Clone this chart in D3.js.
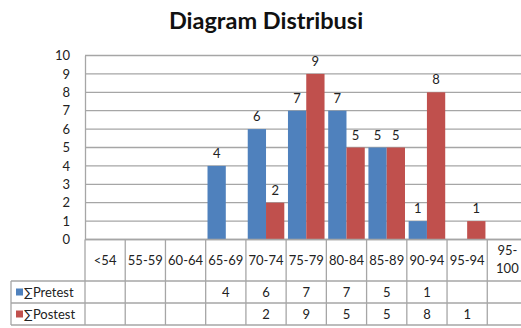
<!DOCTYPE html>
<html>
<head>
<meta charset="utf-8">
<script src="https://cdn.jsdelivr.net/npm/d3@7"></script>
<style>
  html, body { margin: 0; padding: 0; background: #fff; }
  svg { display: block; font-family: Lato, "Open Sans", sans-serif; }
</style>
</head>
<body>
<svg id="chart" width="521" height="328"></svg>
<script>
// Score ranges and counts per range
const categories = ["<54", "55-59", "60-64", "65-69", "70-74", "75-79", "80-84", "85-89", "90-94", "95-94", "95-100"];
const seriesNames = ["\u2211Pretest", "\u2211Postest"];
const pretest = [null, null, null, 4, 6, 7, 7, 5, 1, null, null];
const postest = [null, null, null, null, 2, 9, 5, 5, 8, 1, null];
const yTicks = [0, 1, 2, 3, 4, 5, 6, 7, 8, 9, 10];
const colors = ["#4F81BD", "#C0504D"];
const title = "Diagram Distribusi";

const svg = d3.select("#chart");
const series = [pretest, postest];
const fs = 13;

const plot = { left: 85, right: 527.5, top: 55.5, bottom: 239.5 };
const table = { top: 239.5, headerBottom: 281, row1Bottom: 303, row2Bottom: 325, legendLeft: 11 };

const x = d3.scaleBand().domain(categories).range([plot.left, plot.right]).padding(0);
const xInner = d3.scaleBand().domain([0, 1]).range([0, x.bandwidth()]).paddingInner(0).paddingOuter(0.1);
const y = d3.scaleLinear().domain([0, 10]).range([plot.bottom, plot.top]);

// Title
svg.append("text")
  .attr("x", 266).attr("y", 29)
  .attr("text-anchor", "middle")
  .attr("font-size", 23.5).attr("font-weight", "bold")
  .attr("fill", "#111")
  .text(title);

// Gridlines
svg.append("g").selectAll("line").data(yTicks).join("line")
  .attr("x1", plot.left).attr("x2", 521)
  .attr("y1", d => y(d)).attr("y2", d => y(d))
  .attr("stroke", "#a6a6a6").attr("stroke-width", 1.3);

// Y axis
const yAxis = svg.append("g")
  .attr("transform", `translate(${plot.left},0)`)
  .call(d3.axisLeft(y).tickValues(yTicks).tickSize(0).tickPadding(15));
yAxis.select(".domain").attr("stroke", "#a6a6a6").attr("stroke-width", 1.3);
yAxis.selectAll("text").attr("font-size", fs).attr("fill", "#222").attr("font-family", "Lato, sans-serif");

// Bars
const barGroups = svg.append("g").selectAll("g").data(series).join("g")
  .attr("fill", (d, i) => colors[i]);
barGroups.each(function (vals, si) {
  const data = categories.map((c, i) => ({ c, v: vals[i] })).filter(d => d.v != null);
  d3.select(this).selectAll("rect").data(data).join("rect")
    .attr("x", d => x(d.c) + xInner(si))
    .attr("width", xInner.bandwidth())
    .attr("y", d => y(d.v))
    .attr("height", d => y(0) - y(d.v));
  d3.select(this).selectAll("text").data(data).join("text")
    .attr("x", d => x(d.c) + xInner(si) + xInner.bandwidth() / 2)
    .attr("y", d => y(d.v) - 8)
    .attr("text-anchor", "middle")
    .attr("font-size", fs).attr("fill", "#222")
    .text(d => d.v);
});

// Data table below the plot
const tg = svg.append("g").attr("stroke", "#a6a6a6").attr("stroke-width", 1.3);
// horizontal rules
tg.append("line").attr("x1", plot.left).attr("x2", 521).attr("y1", table.top).attr("y2", table.top);
[table.headerBottom, table.row1Bottom, table.row2Bottom].forEach(yy => {
  tg.append("line").attr("x1", table.legendLeft).attr("x2", 521).attr("y1", yy).attr("y2", yy);
});
// vertical rules
tg.append("line").attr("x1", table.legendLeft).attr("x2", table.legendLeft)
  .attr("y1", table.headerBottom).attr("y2", table.row2Bottom);
categories.forEach(c => {
  tg.append("line").attr("x1", x(c)).attr("x2", x(c)).attr("y1", table.top).attr("y2", table.row2Bottom);
});
tg.append("line").attr("x1", plot.right).attr("x2", plot.right).attr("y1", table.top).attr("y2", table.row2Bottom);

// category labels
const catLabels = svg.append("g").selectAll("text").data(categories).join("text")
  .attr("text-anchor", "middle")
  .attr("font-size", fs).attr("fill", "#222")
  .attr("x", d => x(d) + x.bandwidth() / 2);
catLabels.each(function (d) {
  const t = d3.select(this);
  const mid = (table.top + table.headerBottom) / 2;
  t.text(d);
  if (this.getComputedTextLength() > x.bandwidth() - 4 && d.includes("-")) {
    const parts = d.split("-");
    t.text(null);
    t.append("tspan").attr("x", x(d) + x.bandwidth() / 2).attr("y", mid - 5).text(parts[0] + "-");
    t.append("tspan").attr("x", x(d) + x.bandwidth() / 2).attr("y", mid + 13).text(parts[1]);
  } else {
    t.attr("y", mid + 4.5);
  }
});

// series rows
const rowMids = [(table.headerBottom + table.row1Bottom) / 2, (table.row1Bottom + table.row2Bottom) / 2];
series.forEach((vals, si) => {
  const g = svg.append("g");
  g.append("rect")
    .attr("x", table.legendLeft + 5).attr("y", rowMids[si] - 3.5)
    .attr("width", 7).attr("height", 7).attr("fill", colors[si]);
  g.append("text")
    .attr("x", table.legendLeft + 13).attr("y", rowMids[si] + 4.5)
    .attr("font-size", fs).attr("fill", "#222")
    .text(seriesNames[si]);
  g.selectAll("text.val").data(categories.map((c, i) => ({ c, v: vals[i] })).filter(d => d.v != null))
    .join("text").attr("class", "val")
    .attr("x", d => x(d.c) + x.bandwidth() / 2).attr("y", rowMids[si] + 4.5)
    .attr("text-anchor", "middle")
    .attr("font-size", fs).attr("fill", "#222")
    .text(d => d.v);
});
</script>
</body>
</html>
